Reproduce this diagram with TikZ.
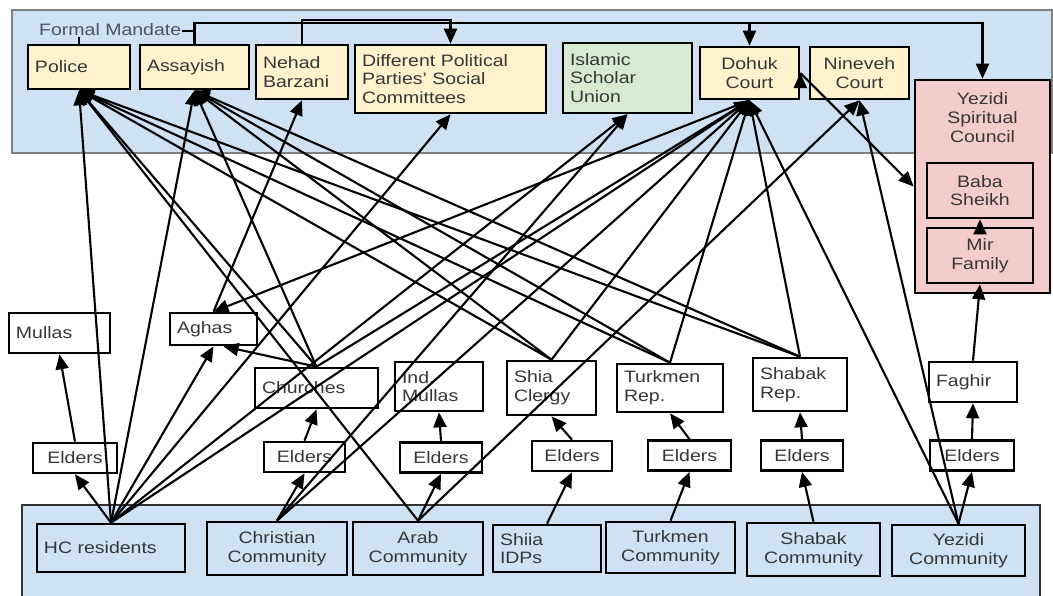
\documentclass[tikz,border=0pt]{standalone}
\usepackage{fontspec}
\setmainfont{Liberation Sans}[FakeStretch=1.18]
\usepackage{tikz}
\usetikzlibrary{arrows.meta}

\definecolor{bandblue}{RGB}{207,226,243}
\definecolor{govyellow}{RGB}{255,242,204}
\definecolor{relgreen}{RGB}{217,234,211}
\definecolor{yezpink}{RGB}{244,204,204}
\definecolor{boxtext}{RGB}{55,55,55}
\definecolor{bandtext}{RGB}{70,85,105}

\tikzset{
  box/.style={draw, line width=1.5pt, inner xsep=1.4mm, inner ysep=0.6mm,
    text=boxtext, font=\fontsize{9.4}{10.6}\selectfont},
  band/.style={fill=bandblue, line width=0.6pt},
  arr/.style={line width=1.2pt, -{Triangle[length=3mm,width=2.6mm]}},
}

\begin{document}
\begin{tikzpicture}[x=0.2mm, y=-0.2mm]
    \useasboundingbox (0,0) rectangle (1053,595);
    \draw[band, draw=gray] (12,10) rectangle (1052,153);
    \draw[band, draw=black!80] (22,505) rectangle (1040,600);

    % formal mandate
    \node[box, fill=govyellow, align=left, text width=17.6mm, minimum height=8.8mm] (police) at (79,67) {Police};
    \node[box, fill=govyellow, align=left, text width=19mm, minimum height=8.8mm] (assayish) at (194.5,67) {Assayish};
    \node[box, fill=govyellow, align=left, text width=15.6mm, minimum height=10.8mm] (nehad) at (302,72) {Nehad\\Barzani};
    \node[box, fill=govyellow, align=left, text width=35.4mm, minimum height=13.6mm] (parties) at (450.5,79) {Different Political\\Parties' Social\\Committees};
    \node[box, fill=relgreen, align=left, text width=23mm, minimum height=14mm] (isu) at (627.5,78) {Islamic\\Scholar\\Union};
    \node[box, fill=govyellow, align=center, text width=17mm, minimum height=10.4mm] (dohuk) at (749.5,73) {Dohuk\\Court};
    \node[box, fill=govyellow, align=center, text width=17mm, minimum height=10.4mm] (nineveh) at (859.5,73) {Nineveh\\Court};
    \node[box, fill=yezpink, minimum width=27mm, minimum height=42.6mm,
          label={[anchor=north, yshift=-1.6mm, align=center, text=boxtext, font=\fontsize{9.4}{10.6}\selectfont]north:Yezidi\\Spiritual\\Council}] (council) at (982.5,186.5) {};
    \node[box, fill=yezpink, align=center, text width=18.4mm, minimum height=11mm] (baba) at (980,190.5) {Baba\\Sheikh};
    \node[box, fill=yezpink, align=center, text width=18.4mm, minimum height=11mm] (mir) at (980,255.5) {Mir\\Family};

    % informal leaders
    \node[box, fill=white, align=left, text width=17.4mm, minimum height=8mm] (mullas) at (59.5,333) {Mullas};
    \node[box, fill=white, align=left, text width=14.6mm, minimum height=6.4mm] (aghas) at (213.5,329) {Aghas};
    \node[box, fill=white, align=left, text width=21.8mm, minimum height=8mm] (churches) at (316.5,388) {Churches};
    \node[box, fill=white, align=left, text width=14.8mm, minimum height=9.8mm] (indmullas) at (439,386.5) {Ind.\\Mullas};
    \node[box, fill=white, align=left, text width=15mm, minimum height=10.8mm] (shiacl) at (551.5,388) {Shia\\Clergy};
    \node[box, fill=white, align=left, text width=18.4mm, minimum height=9.6mm] (turkrep) at (670,388) {Turkmen\\Rep.};
    \node[box, fill=white, align=left, text width=16mm, minimum height=10.6mm] (shabrep) at (800,384.5) {Shabak\\Rep.};
    \node[box, fill=white, align=left, text width=14.8mm, minimum height=8mm] (faghir) at (973,382) {Faghir};

    % elders
    \node[box, fill=white, align=center, text width=14mm, minimum height=6mm] (eldhc) at (75,458) {Elders};
    \node[box, fill=white, align=center, text width=13.4mm, minimum height=6mm] (eldchr) at (304.5,457) {Elders};
    \node[box, fill=white, align=center, text width=13.6mm, minimum height=6mm] (eldarab) at (441,457.5) {Elders};
    \node[box, fill=white, align=center, text width=13.2mm, minimum height=6mm] (eldshia) at (572,456) {Elders};
    \node[box, fill=white, align=center, text width=13.8mm, minimum height=6mm] (eldturk) at (689.5,455.5) {Elders};
    \node[box, fill=white, align=center, text width=13.6mm, minimum height=6mm] (eldshab) at (802,455.5) {Elders};
    \node[box, fill=white, align=center, text width=14mm, minimum height=6mm] (eldyez) at (972,455.5) {Elders};

    % communities
    \node[box, fill=bandblue, align=left, text width=26.8mm, minimum height=9.6mm] (hc) at (111,548) {HC residents};
    \node[box, fill=bandblue, align=center, text width=25.2mm, minimum height=10.6mm] (christian) at (277,548.5) {Christian\\Community};
    \node[box, fill=bandblue, align=center, text width=23.2mm, minimum height=10.6mm] (arab) at (418,548.5) {Arab\\Community};
    \node[box, fill=bandblue, align=left, text width=18.8mm, minimum height=9.4mm] (shiia) at (547,548.5) {Shiia\\IDPs};
    \node[box, fill=bandblue, align=center, text width=23mm, minimum height=10.2mm] (turkcom) at (670.5,547.5) {Turkmen\\Community};
    \node[box, fill=bandblue, align=center, text width=23.8mm, minimum height=10.6mm] (shabcom) at (813.5,549.5) {Shabak\\Community};
    \node[box, fill=bandblue, align=center, text width=23.8mm, minimum height=10.2mm] (yezcom) at (958.5,550.5) {Yezidi\\Community};

    % links across the top
    \coordinate (jpol) at (194.5,31);
    \coordinate (kdoh) at (749.5,23);
    \coordinate (kpar) at (450.5,20);
    \draw[line width=1.2pt] (police.north) |- (jpol);
    \draw[arr] (assayish.north) |- (kdoh) -- (dohuk.north);
    \draw[arr] (kdoh) -| (council.north);
    \draw[arr] (nehad.north) |- (kpar) -- (parties.north);
    \node[anchor=west, fill=bandblue, inner sep=0.5pt, text=bandtext, font=\fontsize{9.4}{10.6}\selectfont] (formal) at (38,30) {Formal Mandate};

    \draw[arr]
          (hc.north) edge (eldhc.south)
          (hc.north) edge (police.south)
          (hc.north) edge (assayish.south)
          (hc.north) edge (aghas.south)
          (hc.north) edge (parties.south)
          (hc.north) edge (isu.south)
          (hc.north) edge (dohuk.south)
          (eldhc.north) edge (mullas.south)
          (christian.north) edge (eldchr.south)
          (christian.north) edge (isu.south)
          (christian.north) edge (dohuk.south)
          (eldchr.north) edge (churches.south)
          (arab.north) edge (eldarab.south)
          (arab.north) edge (police.south)
          (arab.north) edge (nineveh.south)
          (eldarab.north) edge (indmullas.south)
          (shiia.north) edge (eldshia.south)
          (eldshia.north) edge (shiacl.south)
          (turkcom.north) edge (eldturk.south)
          (eldturk.north) edge (turkrep.south)
          (shabcom.north) edge (eldshab.south)
          (eldshab.north) edge (shabrep.south)
          (yezcom.north) edge (eldyez.south)
          (yezcom.north) edge (dohuk.south)
          (yezcom.north) edge (nineveh.south)
          (eldyez.north) edge (faghir.south)
          (faghir.north) edge (mir.south)
          (mir.north) edge (baba.south)
          (churches.north) edge (police.south)
          (churches.north) edge (assayish.south)
          (churches.north) edge (aghas.-60)
          (churches.north) edge (dohuk.south)
          (aghas.north) edge (nehad.south)
          (dohuk.south) edge (aghas.north)
          (shiacl.north) edge (police.south)
          (shiacl.north) edge (assayish.south)
          (shiacl.north) edge (dohuk.south)
          (turkrep.north) edge (police.south)
          (turkrep.north) edge (assayish.south)
          (turkrep.north) edge (dohuk.south)
          (shabrep.north) edge (police.south)
          (shabrep.north) edge (assayish.south)
          (shabrep.north) edge (dohuk.south)
          (dohuk.east) edge (council.west)
          ;
\end{tikzpicture}
\end{document}
